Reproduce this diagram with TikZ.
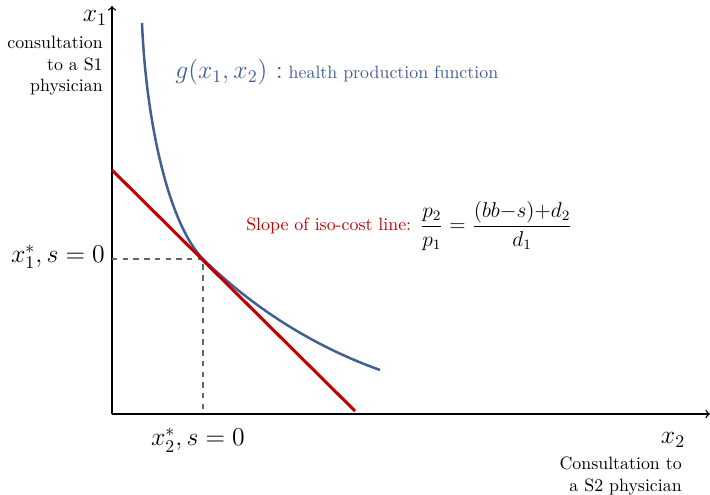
\documentclass[tikz,border=0pt]{standalone}
\usepackage{amsmath, amssymb}
\usepackage{tikz}
\usepackage{xcolor}
\usetikzlibrary{positioning}
\definecolor{isoblue}{RGB}{65,95,145}
\definecolor{costred}{RGB}{192,0,0}

\begin{document}
\begin{tikzpicture}[x=0.56pt, y=-0.56pt]
    \useasboundingbox (0,0) rectangle (710,495);

    % Key points
    \coordinate (O) at (112,414);
    \coordinate (xend) at (710,414);
    \coordinate (yend) at (112,6);
    \coordinate (opt) at (203,259);
    \coordinate (costA) at (112,170);
    \coordinate (costB) at (355,411);

    % Axes
    \draw[->, line width=0.8pt] (O) -- (xend);
    \draw[->, line width=0.8pt] (O) -- (yend);

    % Axis labels
    \node (xone) at (95,18) {\Large $x_1$};
    \node[anchor=east, align=right] (xonetext) at (109,66) {consultation\\to a S1\\physician};
    \node (xtwo) at (673,440) {\Large $x_2$};
    \node[anchor=east, align=right] (xtwotext) at (688,476) {Consultation to\\a S2 physician};

    % Optimum (dashed guides)
    \draw[dashed, gray!80!black, line width=0.6pt] (O |- opt) -- (opt) -- (O -| opt);
    \node (xonestar) at (58,257) {\Large $x_1^*, s=0$};
    \node (xtwostar) at (198,440) {\Large $x_2^*, s=0$};

    % Health production function (isoquant)
    \draw[isoblue, line width=1.4pt] (142,23) .. controls (146,120) and (168,223) .. (opt)
        .. controls (250,305) and (310,345) .. (380,370);
    \node[anchor=west, isoblue] (glabel) at (169,72)
        {\Large $g(x_1,x_2)$\ {:}\normalsize\ health production function};

    % Iso-cost line
    \draw[costred, line width=1.7pt] (costA) -- (costB);
    \node[anchor=west, costred] (slope) at (240,226) {Slope of iso-cost line:};
    \node[right=-2pt of slope] (ratio)
        {\large $\dfrac{p_2}{p_1}=\dfrac{(bb{-}s){+}d_2}{d_1}$};
\end{tikzpicture}
\end{document}
